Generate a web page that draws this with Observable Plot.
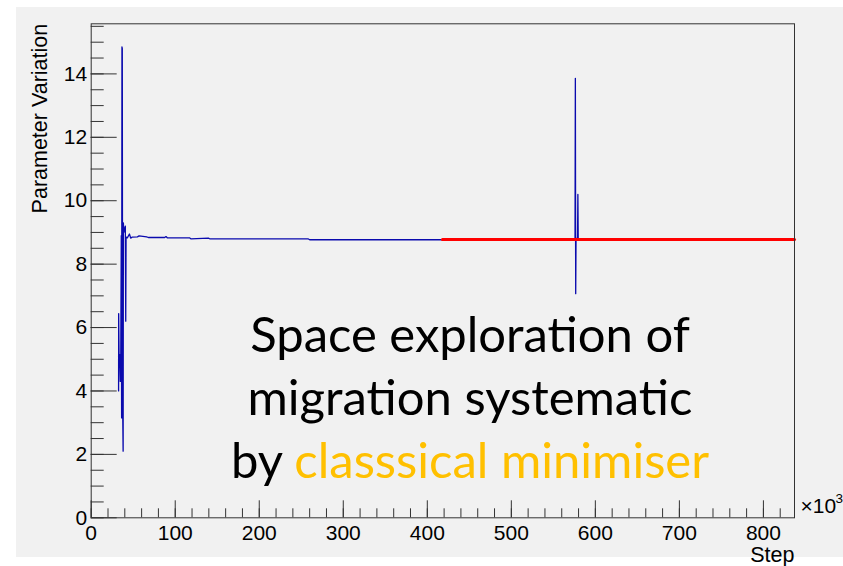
<!DOCTYPE html>
<html>
<head>
<meta charset="utf-8">
<script src="https://cdn.jsdelivr.net/npm/d3@7"></script>
<script src="https://cdn.jsdelivr.net/npm/@observablehq/plot@0.6"></script>
<style>
  body { margin: 0; background: #ffffff; }
  #wrap { position: relative; width: 843px; height: 566px; overflow: hidden; }
  #panel { position: absolute; left: 16px; top: 7px; width: 827px; height: 550px; background: #f1f1f1; }
  #chart { position: absolute; left: 0; top: 0; }
  #chart svg, #chart svg text { font-family: "Liberation Sans", Arial, sans-serif !important; }
  #note {
    position: absolute; left: 0; top: 302px; width: 940px;
    text-align: center; font-family: Lato, "Open Sans", sans-serif;
    font-size: 49px; line-height: 63px; color: #000000;
  }
  #note .hl { color: #ffc000; }
</style>
</head>
<body>
<div id="wrap">
  <div id="panel"></div>
  <div id="chart"></div>
  <div id="note">Space exploration of<br>migration systematic<br>by <span class="hl">classsical minimiser</span></div>
</div>
<script>
// Minimiser trace: step (thousands) and parameter value
const stepK = [32.6, 32.7, 33.2, 33.8, 34.6, 35.2, 35.8, 36.2, 36.6, 37.0, 37.4, 38.0, 38.3, 38.8, 39.6, 40.6, 41.1, 41.5, 43.0, 45.5, 47.0, 48.5, 55.0, 57.0, 66.0, 68.0, 87.5, 89.0, 90.5, 117.0, 118.5, 139.5, 141.0, 258.0, 260.0, 575.8, 576.2, 576.6, 577.0, 578.8, 579.2, 579.6, 837.0];
const paramValue = [4.0, 6.44, 5.05, 5.15, 4.3, 5.1, 8.9, 3.15, 14.85, 14.8, 3.6, 2.1, 9.3, 9.0, 9.1, 9.2, 6.2, 8.85, 8.83, 8.95, 8.82, 8.85, 8.86, 8.89, 8.86, 8.84, 8.84, 8.87, 8.83, 8.83, 8.80, 8.82, 8.80, 8.80, 8.77, 8.77, 13.86, 7.07, 8.77, 8.84, 10.2, 8.8, 8.78];

// Converged segment
const fitStepK = [418, 837];
const fitValue = [8.78, 8.78];

// Axis ticks
const xMajor = [0, 100, 200, 300, 400, 500, 600, 700, 800];
const xMinor = d3.range(0, 837, 20);
const yMajor = [0, 2, 4, 6, 8, 10, 12, 14];
const yMinor = d3.range(0, 15.6, 0.5);

const trace = stepK.map((s, i) => ({step: s, value: paramValue[i]}));
const fit = fitStepK.map((s, i) => ({step: s, value: fitValue[i]}));

const W = 843, H = 566;
const mL = 90.7, mR = 49, mT = 23.3, mB = 48.7;
const plotW = W - mL - mR, plotH = H - mT - mB;
const axisColor = "#333333";

const chart = Plot.plot({
  width: W,
  height: H,
  marginLeft: mL,
  marginRight: mR,
  marginTop: mT,
  marginBottom: mB,
  style: {background: "transparent", fontSize: "21px", color: "#000"},
  x: {domain: [0, 837]},
  y: {domain: [0, 15.58]},
  marks: [
    // inward tick marks
    Plot.tickY(yMinor, {y: d => d, insetRight: plotW - 13, stroke: axisColor}),
    Plot.tickY(yMajor, {y: d => d, insetRight: plotW - 26, stroke: axisColor}),
    Plot.tickX(xMinor, {x: d => d, insetTop: plotH - 9, stroke: axisColor}),
    Plot.tickX(xMajor, {x: d => d, insetTop: plotH - 17, stroke: axisColor}),
    Plot.axisY({ticks: yMajor, tickSize: 0, tickPadding: 4, fontSize: 21, label: null, tickFormat: d => String(d)}),
    Plot.axisX({ticks: xMajor, tickSize: 0, tickPadding: 7, fontSize: 21, label: null, tickFormat: d => String(d)}),
    Plot.line(trace, {x: "step", y: "value", stroke: "#0a0aae", strokeWidth: 1.3}),
    Plot.line(fit, {x: "step", y: "value", stroke: "#ff0000", strokeWidth: 3}),
    Plot.frame({stroke: axisColor, strokeWidth: 1}),
    Plot.text(["Parameter Variation"], {
      text: d => d, frameAnchor: "top-left", rotate: -90, textAnchor: "end",
      lineAnchor: "bottom", dx: -44.2, fontSize: 21.5, fill: "#000"
    }),
    Plot.text(["Step"], {
      text: d => d, frameAnchor: "bottom-right", textAnchor: "end",
      lineAnchor: "bottom", dy: 44, fontSize: 21.5, fill: "#000"
    }),
    Plot.text(["×10"], {
      text: d => d, frameAnchor: "bottom-right", textAnchor: "start",
      lineAnchor: "bottom", dx: 6, dy: -5, fontSize: 21, fill: "#000"
    }),
    Plot.text(["3"], {
      text: d => d, frameAnchor: "bottom-right", textAnchor: "start",
      lineAnchor: "bottom", dx: 41, dy: -15, fontSize: 13.5, fill: "#000"
    })
  ]
});

document.getElementById("chart").appendChild(chart);
</script>
</body>
</html>
